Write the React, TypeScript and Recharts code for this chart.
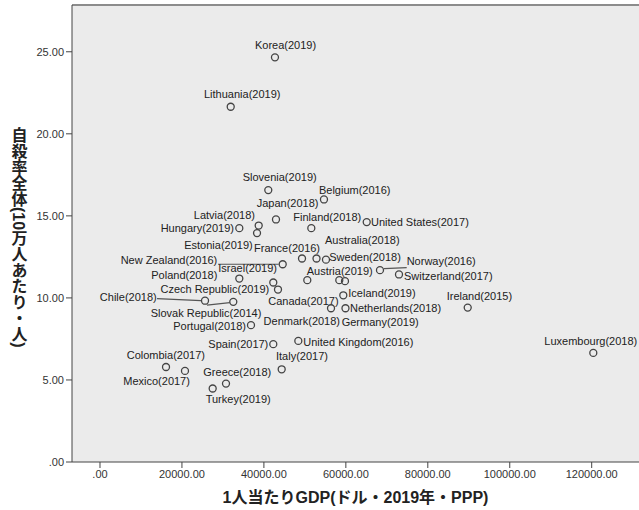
import { ScatterChart, Scatter, XAxis, YAxis, CartesianGrid, ReferenceLine, Customized } from 'recharts'

// countries (label text), GDP per capita (USD, 2019, PPP) and suicide rate per 100k
const countries = [
  'Korea(2019)', 'Lithuania(2019)', 'Slovenia(2019)', 'Belgium(2016)', 'Japan(2018)',
  'Latvia(2018)', 'Hungary(2019)', 'Estonia(2019)', 'Finland(2018)', 'United States(2017)',
  'France(2016)', 'Australia(2018)', 'Sweden(2018)', 'New Zealand(2016)', 'Israel(2019)',
  'Czech Republic(2019)', 'Poland(2018)', 'Canada(2017)', 'Austria(2019)', 'Germany(2019)',
  'Norway(2016)', 'Switzerland(2017)', 'Iceland(2019)', 'Denmark(2018)', 'Netherlands(2018)',
  'Ireland(2015)', 'Chile(2018)', 'Slovak Republic(2014)', 'Portugal(2018)', 'Spain(2017)',
  'United Kingdom(2016)', 'Italy(2017)', 'Colombia(2017)', 'Mexico(2017)', 'Greece(2018)',
  'Turkey(2019)', 'Luxembourg(2018)',
]
const gdp = [
  42700, 31900, 41070, 54660, 42950,
  38730, 34000, 38320, 51570, 65090,
  49300, 52840, 55150, 44590, 42290,
  43440, 34000, 50590, 58400, 59790,
  68330, 72970, 59380, 56380, 59910,
  89740, 25630, 32530, 36850, 42290,
  48400, 44340, 16110, 20740, 30750,
  27500, 120390,
]
const suicide = [
  24.66, 21.65, 16.57, 16.0, 14.78,
  14.41, 14.25, 13.95, 14.25, 14.62,
  12.4, 12.4, 12.33, 12.05, 10.94,
  10.51, 11.18, 11.08, 11.08, 11.02,
  11.69, 11.43, 10.16, 9.37, 9.37,
  9.41, 9.83, 9.76, 8.34, 7.18,
  7.38, 5.65, 5.79, 5.55, 4.78,
  4.48, 6.65,
]
const xTicks = [0, 20000, 40000, 60000, 80000, 100000, 120000]
const yTicks = [0, 5, 10, 15, 20, 25]

const X_DOMAIN: [number, number] = [-6833, 131543]
const Y_MAX = 27.85

// label placement relative to each point: [anchor, dx, dy, leader line?]
type Place = { a: 'start' | 'end'; dx: number; dy: number; line?: [number, number, number, number] }
const place: Record<string, Place> = {
  'Korea(2019)': { a: 'start', dx: -20, dy: -12.3 },
  'Lithuania(2019)': { a: 'start', dx: -26.7, dy: -12.4 },
  'Slovenia(2019)': { a: 'start', dx: -25.6, dy: -12.7 },
  'Belgium(2016)': { a: 'start', dx: -5, dy: -9.3 },
  'Japan(2018)': { a: 'start', dx: -19.3, dy: -16 },
  'Latvia(2018)': { a: 'end', dx: -3.7, dy: -11 },
  'Hungary(2019)': { a: 'end', dx: -5.3, dy: 0.3 },
  'Estonia(2019)': { a: 'end', dx: -4.3, dy: 12 },
  'Finland(2018)': { a: 'start', dx: -18, dy: -10.7 },
  'United States(2017)': { a: 'start', dx: 4.3, dy: 0.3 },
  'France(2016)': { a: 'start', dx: -48, dy: -11 },
  'Australia(2018)': { a: 'start', dx: 8.5, dy: -18.3 },
  'Sweden(2018)': { a: 'start', dx: 3.3, dy: -2.5 },
  'New Zealand(2016)': { a: 'end', dx: -65.4, dy: -4, line: [-64.7, 0, -4, 0] },
  'Israel(2019)': { a: 'start', dx: -55, dy: -14 },
  'Czech Republic(2019)': { a: 'end', dx: -8.7, dy: -1 },
  'Poland(2018)': { a: 'end', dx: -22, dy: -3.3 },
  'Canada(2017)': { a: 'start', dx: -39, dy: 21 },
  'Austria(2019)': { a: 'start', dx: -32.6, dy: -9 },
  'Germany(2019)': { a: 'start', dx: -3.3, dy: 41.3 },
  'Norway(2016)': { a: 'start', dx: 26.7, dy: -9.3, line: [4, -1.5, 26.7, -2.5] },
  'Switzerland(2017)': { a: 'start', dx: 5, dy: 1.7 },
  'Iceland(2019)': { a: 'start', dx: 5, dy: -2.7 },
  'Denmark(2018)': { a: 'end', dx: 9, dy: 13 },
  'Netherlands(2018)': { a: 'start', dx: 4.5, dy: -0.7 },
  'Ireland(2015)': { a: 'start', dx: -21, dy: -11.6 },
  'Chile(2018)': { a: 'end', dx: -48.3, dy: -3.2, line: [-48, -2, -4, 0] },
  'Slovak Republic(2014)': { a: 'start', dx: -82.6, dy: 11, line: [-26.3, 3.3, -3.5, 0.8] },
  'Portugal(2018)': { a: 'end', dx: -5, dy: 1 },
  'Spain(2017)': { a: 'end', dx: -5, dy: 0 },
  'United Kingdom(2016)': { a: 'start', dx: 5, dy: 1 },
  'Italy(2017)': { a: 'start', dx: -5.7, dy: -13 },
  'Colombia(2017)': { a: 'start', dx: -39.3, dy: -11.7 },
  'Mexico(2017)': { a: 'start', dx: -61.7, dy: 10.3 },
  'Greece(2018)': { a: 'start', dx: -22.7, dy: -11.6 },
  'Turkey(2019)': { a: 'start', dx: -7, dy: 10.7 },
  'Luxembourg(2018)': { a: 'start', dx: -49, dy: -12 },
}

const data = countries.map((name, i) => ({ name, gdp: gdp[i], suicide: suicide[i] }))

const FONT = '"Liberation Sans", Arial, "Noto Sans CJK JP", sans-serif'
const INK = '#333'

const fmt = (v: number) => (v === 0 ? '.00' : v.toFixed(2))

function PointWithLabel(props: any) {
  const { cx, cy, payload } = props
  if (cx == null || cy == null) return null
  const p = place[payload.name]
  return (
    <g>
      {p.line && (
        <line
          x1={cx + p.line[0]}
          y1={cy + p.line[1]}
          x2={cx + p.line[2]}
          y2={cy + p.line[3]}
          stroke="#555"
          strokeWidth={1.2}
        />
      )}
      <circle cx={cx} cy={cy} r={3.5} fill="none" stroke="#444" strokeWidth={1.3} />
      <text
        x={cx + p.dx}
        y={cy + p.dy}
        textAnchor={p.a}
        dominantBaseline="central"
        fontSize={11}
        fontFamily={FONT}
        fill="#222"
      >
        {payload.name}
      </text>
    </g>
  )
}

function Titles() {
  return (
    <g fontFamily={FONT} fontWeight="bold" fill="#222">
      <text x={355.5} y={497} textAnchor="middle" dominantBaseline="central" fontSize={16}>
        1人当たりGDP(ドル・2019年・PPP)
      </text>
      <text x={18} y={127} fontSize={16} style={{ writingMode: 'vertical-rl' }}>
        自殺率全体(10万人あたり・人)
      </text>
    </g>
  )
}

export default function App() {
  return (
    <div style={{ position: 'absolute', left: 0, top: 0, background: '#fff' }}>
      <ScatterChart width={639} height={510} margin={{ top: 5, right: 0, bottom: 0, left: 0 }}>
        <CartesianGrid fill="#ebebeb" horizontal={false} vertical={false} />
        <XAxis
          type="number"
          dataKey="gdp"
          domain={X_DOMAIN}
          ticks={xTicks}
          tickFormatter={fmt}
          height={48}
          allowDataOverflow
          stroke="#444"
          tickSize={6}
          tick={{ fontSize: 11, fill: INK, fontFamily: FONT }}
        />
        <YAxis
          type="number"
          dataKey="suicide"
          domain={[0, Y_MAX]}
          ticks={yTicks}
          tickFormatter={fmt}
          width={72}
          allowDataOverflow
          stroke="#444"
          tickSize={6}
          tick={{ fontSize: 11, fill: INK, fontFamily: FONT }}
        />
        <ReferenceLine y={Y_MAX} stroke="#8c8c8c" strokeWidth={2} />
        <Scatter data={data} shape={PointWithLabel} isAnimationActive={false} />
        <Customized component={Titles} />
      </ScatterChart>
    </div>
  )
}
